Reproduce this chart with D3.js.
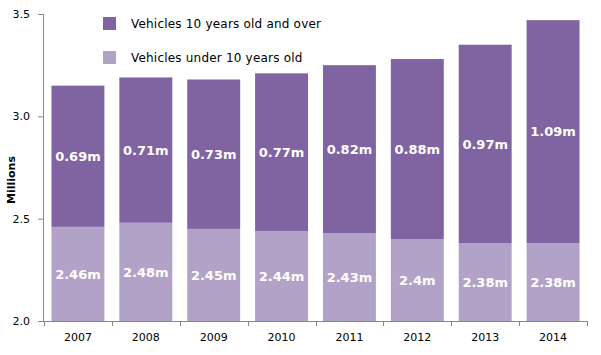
<!DOCTYPE html>
<html><head><meta charset="utf-8">
<script src="https://cdn.jsdelivr.net/npm/d3@7"></script>
<style>body{margin:0;background:#fff}svg{display:block}</style>
</head><body>
<svg id="c" width="601" height="355"></svg>
<script>
const years = ["2007","2008","2009","2010","2011","2012","2013","2014"];
const under10 = [2.46,2.48,2.45,2.44,2.43,2.40,2.38,2.38];
const over10 = [0.69,0.71,0.73,0.77,0.82,0.88,0.97,1.09];
const under10Labels = ["2.46m","2.48m","2.45m","2.44m","2.43m","2.4m","2.38m","2.38m"];
const over10Labels = ["0.69m","0.71m","0.73m","0.77m","0.82m","0.88m","0.97m","1.09m"];
const yTicks = [2.0,2.5,3.0,3.5];
const seriesNames = ["Vehicles 10 years old and over","Vehicles  under 10 years old"];

const svg = d3.select("#c");
const x = d3.scaleBand().domain(years).range([44,587]).paddingInner(0.22).paddingOuter(0.11);
const y = d3.scaleLinear().domain([2.0,3.5]).range([321,14]);
const cLight = "#b3a2c7", cDark = "#8064a2", axisCol = "#868686";
const font = "Tahoma, 'DejaVu Sans', Verdana, sans-serif";

const data = years.map((yr,i)=>({yr, a:under10[i], b:over10[i], la:under10Labels[i], lb:over10Labels[i]}));

const g = svg.append("g");
g.selectAll("rect.u").data(data).join("rect")
 .attr("x",d=>x(d.yr)).attr("width",x.bandwidth())
 .attr("y",d=>y(d.a)).attr("height",d=>y(2.0)-y(d.a)).attr("fill",cLight);
g.selectAll("rect.o").data(data).join("rect")
 .attr("x",d=>x(d.yr)).attr("width",x.bandwidth())
 .attr("y",d=>y(d.a+d.b)).attr("height",d=>y(d.a)-y(d.a+d.b)).attr("fill",cDark);

const lbl = svg.append("g").attr("font-family","Verdana, 'DejaVu Sans', sans-serif")
 .attr("font-weight","bold").attr("font-size",13).attr("fill","#fff").attr("text-anchor","middle");
lbl.selectAll("text.u").data(data).join("text")
 .attr("x",d=>x(d.yr)+x.bandwidth()/2).attr("y",d=>(y(d.a)+y(2.0))/2).attr("dy","0.36em").text(d=>d.la);
lbl.selectAll("text.o").data(data).join("text")
 .attr("x",d=>x(d.yr)+x.bandwidth()/2).attr("y",d=>(y(d.a)+y(d.a+d.b))/2).attr("dy","0.36em").text(d=>d.lb);

const ya = svg.append("g").attr("transform","translate(43,0)")
 .call(d3.axisLeft(y).tickValues(yTicks).tickFormat(d3.format(".1f")).tickSizeOuter(0).tickSize(5).tickPadding(8));
const xa = svg.append("g").attr("transform","translate(0,321)")
 .call(d3.axisBottom(x).tickSize(0).tickPadding(12));
[ya,xa].forEach(a=>{
  a.selectAll("path,line").attr("stroke",axisCol);
  a.selectAll("text").attr("font-family",font).attr("font-size",11).attr("fill","#000");
});
xa.select("path").attr("d","M43,0.5H587");
const bounds = years.map(yr=>x(yr)-x.step()*x.paddingInner()/2).concat([587]);
bounds[0]=44;
xa.selectAll("line.b").data(bounds).join("line").attr("class","b")
 .attr("x1",d=>Math.round(d)+0.5).attr("x2",d=>Math.round(d)+0.5).attr("y1",0).attr("y2",5).attr("stroke",axisCol);

svg.append("text").attr("transform","translate(15,180) rotate(-90)").attr("text-anchor","middle")
 .attr("font-family",font).attr("font-weight","bold").attr("font-size",11).text("Millions");

const leg = svg.append("g");
const legCols = [cDark,cLight];
const legY = [24,58];
legCols.forEach((c,i)=>{
  leg.append("rect").attr("x",103).attr("y",legY[i]-7).attr("width",13).attr("height",13).attr("fill",c);
  leg.append("text").attr("x",131).attr("y",legY[i]).attr("dy","0.35em").attr("font-family",font)
   .attr("font-size",12).attr("fill","#000").attr("letter-spacing",0.2).text(seriesNames[i]);
});
</script>
</body></html>
